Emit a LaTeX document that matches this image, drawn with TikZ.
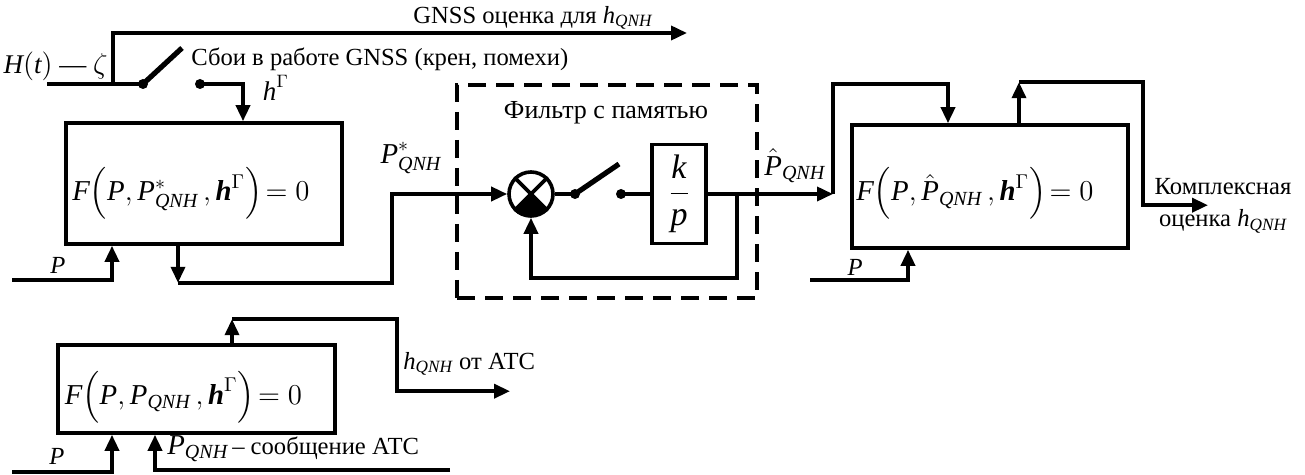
\documentclass[tikz,border=0pt]{standalone}
\usepackage{amsmath}
\usepackage{fontspec}
\setmainfont{Liberation Serif}
\usetikzlibrary{arrows.meta, positioning, calc}
\newcommand{\vi}[1]{\text{\itshape #1}}
\newcommand{\vb}[1]{\text{\bfseries\itshape #1}}
\tikzset{
  blk/.style={draw, line width=1.8pt, inner sep=0pt},
  sig/.style={line width=1.8pt},
  arr/.style={line width=1.8pt, -{Triangle[length=8pt,width=7pt]}},
  blade/.style={line width=2.6pt},
  pin/.style={circle, fill, inner sep=0pt, minimum size=5pt},
  lbl/.style={inner sep=0pt, font=\fontsize{12.3}{16}\selectfont},
  flbl/.style={inner sep=0pt, font=\fontsize{14.4}{17}\selectfont},
}

\begin{document}
\begin{tikzpicture}[x=0.5pt, y=-0.5pt]
  \useasboundingbox (0,0) rectangle (1305,475);

  %% ── blocks ──
  \node[blk, minimum width=138pt, minimum height=60.5pt] (gnss) at (204,183.5) {};
  \node[flbl] (gnssf) at ($(gnss.center)+(-13,10)$)
    {$\vi{F}\Bigl(\vi{P},\vi{P}^{*}_{\vi{QNH}}\,,\vb{h}^{\Gamma}\Bigr)\!=0$};
  \node[blk, minimum width=138pt, minimum height=61.5pt] (est) at (990,186.5) {};
  \node[flbl] (estf) at ($(est.center)+(-15,7)$)
    {$\vi{F}\Bigl(\vi{P},\hat{\vi{P}}_{\vi{QNH}}\,,\vb{h}^{\Gamma}\Bigr)\!=0$};
  \node[blk, minimum width=138.5pt, minimum height=44pt] (atc) at (196.5,389) {};
  \node[flbl] (atcf) at ($(atc.center)+(-13,8)$)
    {$\vi{F}\Bigl(\vi{P},\vi{P}_{\vi{QNH}}\,,\vb{h}^{\Gamma}\Bigr)\!=0$};

  %% ── filter with memory ──
  \node[draw, line width=1.8pt, dash pattern=on 9pt off 5pt, minimum width=150pt,
        minimum height=106.5pt] (filt) at (607,191.5) {};
  \node[lbl, font=\fontsize{13}{14}\selectfont] (ftitle) at (606,113) {Фильтр с памятью};
  \node[draw, circle, line width=1.8pt, minimum size=22pt, inner sep=0pt] (sum) at (531,194) {};
  \draw[line width=1.8pt] (sum.45) -- (sum.225) (sum.135) -- (sum.-45);
  \fill (sum.center) -- (sum.-135) arc[start angle=-135, end angle=-45, radius=11pt] -- cycle;
  \node[blk, minimum width=27pt, minimum height=49.5pt, font=\fontsize{17}{20}\selectfont]
    (kp) at (679,194) {$\dfrac{\vi{k}}{\vi{p}}$};
  \node[pin] (sw2a) at (575,194) {};
  \node[pin] (sw2b) at (621,194) {};
  \coordinate (sw2t) at (619,164);
  \draw[sig] (sum.east) -- (sw2a.center);
  \draw[blade] (sw2a.center) -- (sw2t);
  \draw[sig] (sw2b.center) -- (kp.west);
  \coordinate (jn) at (737,194);
  \coordinate (b2in) at (833,194);
  \draw[arr] (kp.east) -- (b2in);
  \draw[arr] (jn) -- ++(0,84) -| (sum.south);

  %% ── GNSS input and switch ──
  \node[lbl, anchor=east, font=\fontsize{13.5}{16}\selectfont] (hz) at (108,66) {$\vi{H}(\vi{t})$ — $\zeta$};
  \coordinate (hin) at (47,84);
  \coordinate (tap) at (113,84);
  \node[pin] (sw1a) at (143,84) {};
  \node[pin] (sw1b) at (200,84) {};
  \coordinate (sw1t) at (182,48);
  \draw[sig] (hin) -- (sw1a.center);
  \draw[blade] (sw1a.center) -- (sw1t);
  \draw[arr] (tap) -- ++(0,-51) -- ++(574,0) coordinate (gout);
  \node[lbl, anchor=west] (gtxt) at (413,18) {GNSS оценка для $\vi{h}_{\vi{QNH}}$};
  \node[lbl, anchor=west] (fail) at (191,59) {Сбои в работе GNSS (крен, помехи)};
  \node[lbl, font=\fontsize{13.5}{16}\selectfont] (hg) at (276,88) {$\vi{h}^{\Gamma}$};
  \draw[arr] (sw1b.center) -| ($(gnss.north)+(39,0)$);

  %% ── GNSS block in/out ──
  \coordinate (p1) at (12,280);
  \draw[arr] (p1) -| ($(gnss.south)+(-92,0)$);
  \node[lbl] (p1t) at (58,265) {$\vi{P}$};
  \draw[arr] ($(gnss.south)+(-26,0)$) -- ++(0,37) coordinate (o1);
  \draw[arr] (o1) -- ++(214,0) |- (sum.west);
  \node[flbl] (pst) at (411,158) {$\vi{P}^{*}_{\vi{QNH}}$};

  %% ── estimate block ──
  \draw[arr] (b2in) -- ++(0,-110) -| ($(est.north)+(-42,0)$);
  \node[flbl, anchor=west] (phat) at (764,166) {$\hat{\vi{P}}_{\vi{QNH}}$};
  \draw[arr] ($(est.north)+(29,0)$) -- ++(0,-41) coordinate (c2);
  \draw[arr] (c2) -- ++(124,0) -- ++(0,123) -- ++(65,0);
  \node[lbl, align=center] (cmpl) at (1223,206) {Комплексная\\оценка $\vi{h}_{\vi{QNH}}$};
  \coordinate (p2) at (810,280);
  \draw[arr] (p2) -| ($(est.south)+(-82,0)$);
  \node[lbl] (p2t) at (855,267) {$\vi{P}$};

  %% ── ATC block ──
  \draw[arr] ($(atc.north)+(35.5,0)$) -- ++(0,-24) coordinate (c3);
  \draw[arr] (c3) -- ++(165,0) -- ++(0,72) -- ++(113,0);
  \node[lbl, anchor=west] (hatc) at (403,364) {$\vi{h}_{\vi{QNH}}$ от АТС};
  \coordinate (p3) at (12,472);
  \draw[arr] (p3) -| ($(atc.south)+(-84.5,0)$);
  \node[lbl] (p3t) at (57,456) {$\vi{P}$};
  \coordinate (p4) at (450,470);
  \draw[arr] (p4) -| ($(atc.south)+(-41.5,0)$);
  \node[lbl, anchor=west] (msg) at (167,449)
    {{\fontsize{14.4}{17}\selectfont$\vi{P}_{\vi{QNH}}$}\,– сообщение АТС};
\end{tikzpicture}
\end{document}
